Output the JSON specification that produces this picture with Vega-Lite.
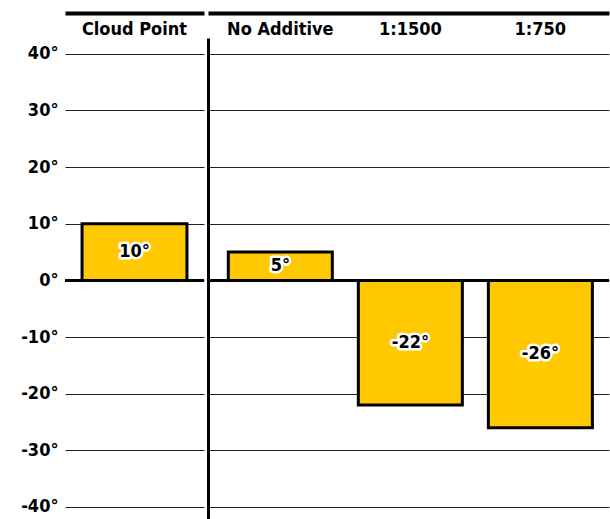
{
  "$schema": "https://vega.github.io/schema/vega-lite/v6.json",
  "padding": {"left": 20, "top": 13, "right": 0, "bottom": 0},
  "background": "white",
  "spacing": 0,
  "datasets": {
    "temps": [
      {"group": "left", "label": "Cloud Point", "value": 10, "display": "10°"},
      {"group": "right", "label": "No Additive", "value": 5, "display": "5°"},
      {"group": "right", "label": "1:1500", "value": -22, "display": "-22°"},
      {"group": "right", "label": "1:750", "value": -26, "display": "-26°"}
    ]
  },
  "data": {"name": "temps"},
  "config": {
    "view": {"stroke": null},
    "font": "DejaVu Sans Condensed",
    "axis": {
      "labelFont": "DejaVu Sans Condensed",
      "labelFontWeight": "bold",
      "labelFontSize": 18,
      "labelColor": "black",
      "labelOverlap": false,
      "title": null,
      "ticks": false,
      "tickSize": 0,
      "gridColor": "#222222",
      "gridWidth": 1.2,
      "gridOpacity": 1
    }
  },
  "hconcat": [
    {
      "width": 139,
      "height": 482,
      "transform": [{"filter": "datum.group === 'left'"}],
      "layer": [
        {
          "mark": {"type": "bar", "fill": "#FFC800", "stroke": "black", "strokeWidth": 3},
          "encoding": {
            "x": {
              "field": "label", "type": "nominal",
              "scale": {"paddingInner": 0.2, "paddingOuter": 0.13},
              "axis": {"orient": "top", "labelAngle": 0, "domain": true, "domainWidth": 4, "domainColor": "black", "offset": 25, "labelPadding": -25, "grid": false}
            },
            "y": {
              "field": "value", "type": "quantitative",
              "scale": {"domain": [-42.3, 42.8], "nice": false, "zero": false},
              "axis": {
                "orient": "left",
                "values": [-40, -35, -30, -25, -20, -15, -10, -5, 0, 5, 10, 15, 20, 25, 30, 35, 40],
                "labelExpr": "datum.value % 10 === 0 ? datum.value + '°' : ''",
                "grid": true, "domain": false, "labelPadding": 7
              }
            }
          }
        },
        {
          "mark": {"type": "rule", "color": "black", "strokeWidth": 3},
          "encoding": {"y": {"datum": 0, "type": "quantitative"}}
        },
        {
          "mark": {"type": "text", "font": "DejaVu Sans Condensed", "fontSize": 18, "fontWeight": "bold", "stroke": "white", "strokeWidth": 5, "strokeJoin": "round", "fill": "white", "baseline": "middle"},
          "encoding": {
            "x": {"field": "label", "type": "nominal"},
            "y": {"field": "value", "type": "quantitative", "stack": "zero", "bandPosition": 0.5},
            "text": {"field": "display"}
          }
        },
        {
          "mark": {"type": "text", "font": "DejaVu Sans Condensed", "fontSize": 18, "fontWeight": "bold", "fill": "black", "baseline": "middle"},
          "encoding": {
            "x": {"field": "label", "type": "nominal"},
            "y": {"field": "value", "type": "quantitative", "stack": "zero", "bandPosition": 0.5},
            "text": {"field": "display"}
          }
        }
      ]
    },
    {
      "width": 401,
      "height": 482,
      "transform": [{"filter": "datum.group === 'right'"}],
      "layer": [
        {
          "mark": {"type": "bar", "fill": "#FFC800", "stroke": "black", "strokeWidth": 3},
          "encoding": {
            "x": {
              "field": "label", "type": "nominal", "sort": null,
              "scale": {"paddingInner": 0.2, "paddingOuter": 0.142, "align": 0.55},
              "axis": {"orient": "top", "labelAngle": 0, "domain": true, "domainWidth": 4, "domainColor": "black", "offset": 25, "labelPadding": -25, "grid": false}
            },
            "y": {
              "field": "value", "type": "quantitative",
              "scale": {"domain": [-42.3, 42.8], "nice": false, "zero": false},
              "axis": {
                "orient": "left",
                "values": [-40, -35, -30, -25, -20, -15, -10, -5, 0, 5, 10, 15, 20, 25, 30, 35, 40],
                "labels": false, "minExtent": 0, "maxExtent": 0,
                "grid": true, "domain": true, "domainWidth": 3, "domainColor": "black"
              }
            }
          }
        },
        {
          "mark": {"type": "rule", "color": "black", "strokeWidth": 3},
          "encoding": {"y": {"datum": 0, "type": "quantitative"}}
        },
        {
          "mark": {"type": "text", "font": "DejaVu Sans Condensed", "fontSize": 18, "fontWeight": "bold", "stroke": "white", "strokeWidth": 5, "strokeJoin": "round", "fill": "white", "baseline": "middle"},
          "encoding": {
            "x": {"field": "label", "type": "nominal", "sort": null},
            "y": {"field": "value", "type": "quantitative", "stack": "zero", "bandPosition": 0.5},
            "text": {"field": "display"}
          }
        },
        {
          "mark": {"type": "text", "font": "DejaVu Sans Condensed", "fontSize": 18, "fontWeight": "bold", "fill": "black", "baseline": "middle"},
          "encoding": {
            "x": {"field": "label", "type": "nominal", "sort": null},
            "y": {"field": "value", "type": "quantitative", "stack": "zero", "bandPosition": 0.5},
            "text": {"field": "display"}
          }
        }
      ]
    }
  ]
}
